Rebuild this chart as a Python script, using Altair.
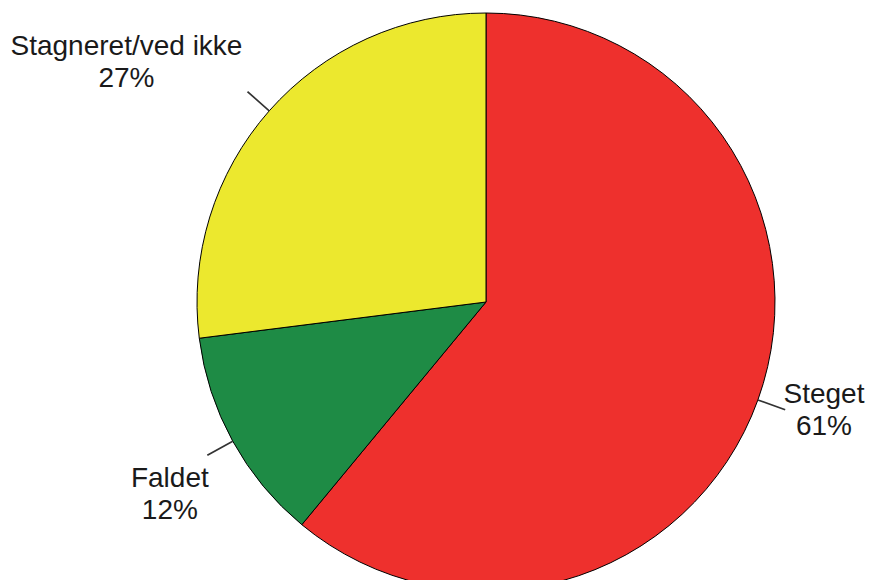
import altair as alt
import pandas as pd

labels = ["Steget", "Faldet", "Stagneret/ved ikke"]
pcts = [61, 12, 27]
colors = ["#EE302D", "#1E8B45", "#ECE82E"]
order = [1, 2, 3]

df = pd.DataFrame({
    "label": labels,
    "pct": pcts,
    "ord": order,
    "txt": [f"{l}\n{p}%" for l, p in zip(labels, pcts)],
})

CX, CY, R = 478, 294, 289
FONT = "Liberation Sans"

base = alt.Chart(df).transform_joinaggregate(
    total="sum(pct)"
).transform_window(
    cum="sum(pct)", sort=[alt.SortField("ord")], frame=[None, 0]
).transform_calculate(
    t1="(datum.cum - datum.pct) / datum.total * 2 * PI",
    t2="datum.cum / datum.total * 2 * PI",
    mid="(datum.cum - datum.pct / 2) / datum.total * 2 * PI",
).transform_calculate(
    l1="datum.mid - 0.0028",
    l2="datum.mid + 0.0028",
)

pie = base.mark_arc(stroke="black", strokeWidth=1).encode(
    theta=alt.Theta("t1:Q", scale=None),
    theta2="t2:Q",
    radius=alt.value(R),
    x=alt.value(CX), y=alt.value(CY),
    color=alt.Color("label:N", scale=alt.Scale(domain=labels, range=colors), legend=None),
)

leaders = base.mark_arc(color="#333333").encode(
    theta=alt.Theta("l1:Q", scale=None),
    theta2="l2:Q",
    radius=alt.value(318),
    radius2=alt.value(R),
    x=alt.value(CX), y=alt.value(CY),
)

def label_layer(name, dx, dy):
    return base.transform_filter(alt.datum.label == name).mark_text(
        font=FONT, fontSize=28, lineBreak="\n", lineHeight=32,
        align="center", baseline="middle", dx=dx, dy=dy, color="#1a1a1a",
    ).encode(
        theta=alt.Theta("mid:Q", scale=None),
        radius=alt.value(322),
        x=alt.value(CX), y=alt.value(CY),
        text="txt:N",
    )

chart = alt.layer(
    pie,
    leaders,
    label_layer("Steget", 35, -16),
    label_layer("Faldet", -34, 22),
    label_layer("Stagneret/ved ikke", -118, -42),
).properties(
    width=857, height=572, padding=0, autosize="none", background="white"
).configure_view(stroke=None)

chart.save("out.html", embed_options={"renderer": "svg", "actions": False})
